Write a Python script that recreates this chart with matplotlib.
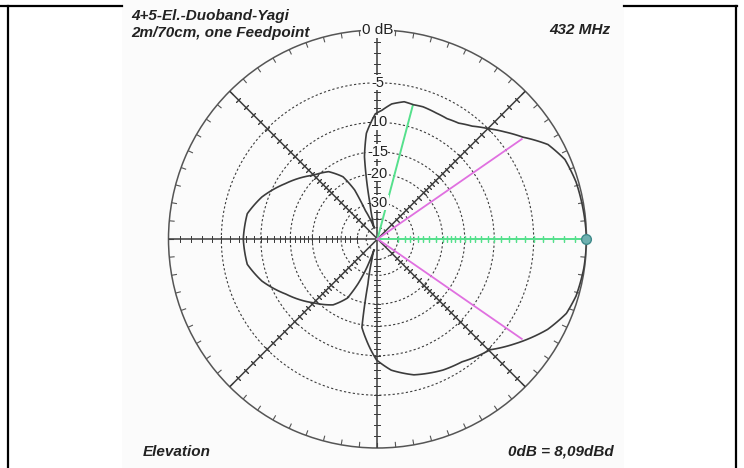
import numpy as np
import matplotlib.pyplot as plt
from matplotlib.lines import Line2D
from matplotlib.patches import Rectangle

# elevation pattern: angle in degrees (0 = forward, ccw), level in dB
angle_deg = [0, 8, 16, 23, 29, 35, 40, 45, 50, 55, 60, 65, 71, 75, 79, 84, 88, 91,
             96, 99, 100.5, 102, 104.5, 107, 110, 113, 115, 119, 126, 135, 149, 160,
             169, 180, 191, 200, 211, 225, 236, 243, 246.5, 249.5, 252, 255, 258, 260,
             263.5, 269.5, 276, 285, 296.5, 304.5, 315.5, 322.5, 332, 338.5, 344, 352, 360]
level_db = [0, -0.1, -0.2, -0.45, -1.2, -2.8, -3.9, -5.0, -6.0, -6.7, -7.0, -7.0, -6.9,
            -7.0, -6.9, -7.4, -8.3, -8.8, -11.6, -15.8, -21.4, -30, -40, -50, -40, -33,
            -23.2, -18.5, -15.8, -14.4, -11.4, -9.1, -7.8, -7.6, -7.8, -9.1, -11.5, -14.4,
            -16.6, -19.7, -25, -33, -50, -38, -26, -14.5, -12.5, -9.4, -7.9, -6.8, -6.1,
            -5.8, -4.8, -3.3, -1.4, -0.5, -0.2, -0.05, 0]

ring_db = [-5, -10, -15, -20, -30, -40, -50]
ring_labels = ["-5", "-10", "-15", "-20", "-30"]
axis_tick_db = list(range(-1, -21, -1)) + [-22, -24, -26, -28, -32, -35, -40]
spoke_deg = [45, 90, 135, 180, 225, 270, 315]
rim_tick_deg = list(range(0, 360, 5))

beam_deg = [34.7, -34.7]     # -3 dB points
beam_db = -3.0
lobe_deg = 75.2              # upper lobe maximum
lobe_db = -7.05

bg = "#fbfbfb"
dark = "#3c3c3c"
green = "#55e08c"
magenta = "#e070e0"

# ARRL log scale, 0.89 per 2 dB
K = -np.log(0.89) / 2


def fwd(db):
    return np.exp(np.asarray(db, dtype=float) * K)


def inv(r):
    return np.log(np.clip(np.asarray(r, dtype=float), 1e-12, None)) / K


W, H = 744, 468
fig = plt.figure(figsize=(W / 100, H / 100), dpi=100)
fig.patch.set_facecolor("white")

# light picture area and the frame round it
fig.add_artist(Rectangle((122 / W, 0), (624 - 122) / W, 1, transform=fig.transFigure,
                         fc=bg, ec="none", zorder=0))
for xs, ys in [([0, 122 / W], [1 - 6 / H] * 2), ([624 / W, 737 / W], [1 - 6 / H] * 2),
               ([8 / W] * 2, [0, 1 - 6 / H]), ([736 / W] * 2, [0, 1 - 6 / H])]:
    fig.add_artist(Line2D(xs, ys, transform=fig.transFigure, color="black", lw=1.6))

cx, cy, R = 377.5, 239, 209
ax = fig.add_axes([(cx - R) / W, (H - cy - R) / H, 2 * R / W, 2 * R / H], projection="polar")
ax.patch.set_facecolor("none")
ax.set_rscale("function", functions=(fwd, inv))
ax.set_rlim(-300, 0)

# dashed rings from the radial grid
ax.set_yticks(ring_db)
ax.set_yticklabels([])
ax.yaxis.grid(True, linestyle=(0, (2, 2)), color=dark, linewidth=0.8)
ax.xaxis.grid(False)
ax.set_xticks([])
ax.tick_params(axis="y", length=0)

# outer circle with small inward ticks every 5 degrees
ax.spines["polar"].set_color("#555555")
ax.spines["polar"].set_linewidth(1.1)
for d in rim_tick_deg:
    t = np.deg2rad(d)
    ax.plot([t, t], [-0.4, 0], color="#555555", lw=0.8, zorder=3)

# spokes with dB ticks
for d in spoke_deg:
    t = np.deg2rad(d)
    ax.plot([t, t], [-300, 0], color=dark, lw=1.1, zorder=3)
    ax.plot([t] * len(axis_tick_db), axis_tick_db, ls="none", marker=(2, 2, d),
            ms=4.5, mec=dark, mew=0.7, zorder=3)

# forward axis in green
ax.plot([0, 0], [-300, 0], color=green, lw=1.4, zorder=4)
ax.plot([0] * len(axis_tick_db), axis_tick_db, ls="none", marker=(2, 2, 0),
        ms=4.5, mec=green, mew=0.9, zorder=4)
ax.plot([np.deg2rad(lobe_deg)] * 2, [-300, lobe_db], color=green, lw=1.4, zorder=4)
for d in beam_deg:
    ax.plot([np.deg2rad(d)] * 2, [-300, beam_db], color=magenta, lw=1.3, zorder=4)
ax.plot([0], [0], ls="none", marker="o", ms=7, mfc="#6fb0b0", mec="#3f8a8a",
        mew=1, zorder=7, clip_on=False)

# the pattern
line, = ax.plot(np.deg2rad(angle_deg), level_db, color=dark, lw=1.2, zorder=6)
line.get_path()._interpolation_steps = 8

font = "Liberation Sans"
for lab, d in zip(ring_labels, ring_db):
    ax.text(np.pi / 2, d, lab, ha="center", va="center", fontsize=10.5, family=font,
            color="#222222", zorder=5,
            bbox=dict(fc=bg, ec="none", pad=0.3))
ax.text(np.pi / 2, 0, "0 dB", ha="center", va="center", fontsize=11, family=font,
        color="#222222", zorder=5, clip_on=False,
        bbox=dict(fc=bg, ec="none", pad=0.6))

style = dict(family=font, fontsize=11, fontweight="bold", fontstyle="italic",
             color="#222222", va="center")
fig.text(131 / W, 1 - 16 / H, "4+5-El.-Duoband-Yagi", ha="left", **style)
fig.text(131 / W, 1 - 33 / H, "2m/70cm, one Feedpoint", ha="left", **style)
fig.text(610 / W, 1 - 30 / H, "432 MHz", ha="right", **style)
fig.text(143 / W, 1 - 452 / H, "Elevation", ha="left", **style)
fig.text(614 / W, 1 - 452 / H, "0dB = 8,09dBd", ha="right", **style)

fig.savefig("out.png", dpi=100, facecolor=fig.get_facecolor())
